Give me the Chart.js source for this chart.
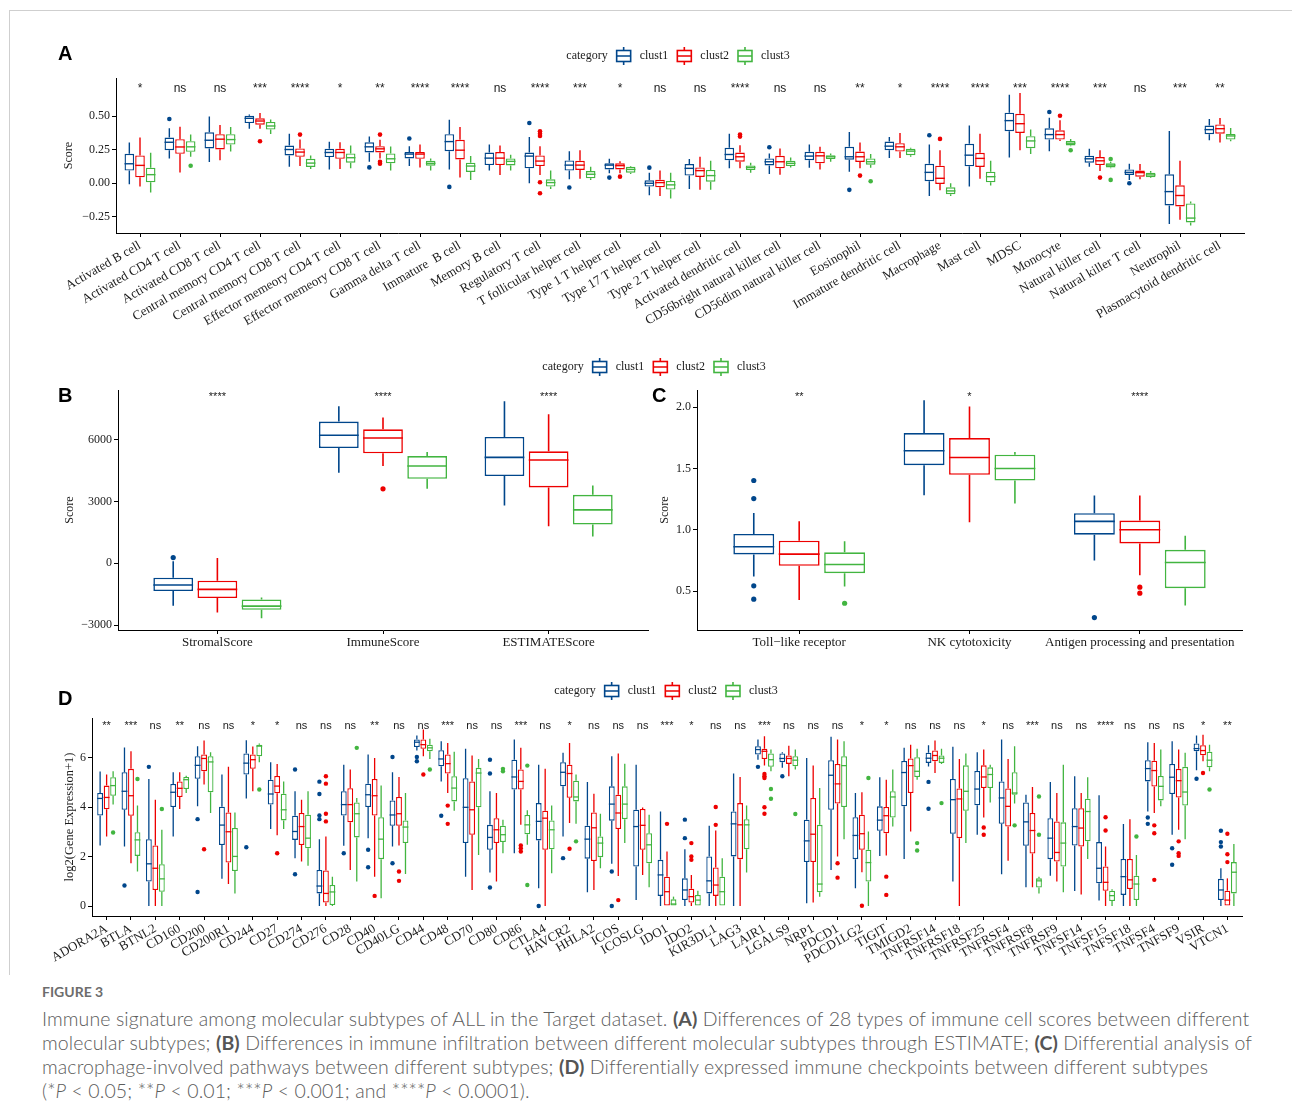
<!DOCTYPE html>
<html><head><meta charset="utf-8">
<script src="https://cdn.jsdelivr.net/npm/chart.js@4.4.1/dist/chart.umd.min.js"></script>
<style>
html,body{margin:0;padding:0;background:#fff;}
body{width:1292px;height:1120px;position:relative;overflow:hidden;}
canvas{position:absolute;left:0;top:0;}
#frameT{position:absolute;left:9px;top:10px;width:1283px;height:1px;background:#cfcfcf;}
#frameL{position:absolute;left:9px;top:10px;width:1px;height:965px;background:#cfcfcf;}
#figlab{position:absolute;left:42px;top:983px;font-family:Lato,"Open Sans",sans-serif;font-size:14px;font-weight:700;color:#6d6d6d;}
#cap{position:absolute;left:42px;top:1007px;font-family:Lato,"Open Sans",sans-serif;font-size:19.5px;font-weight:300;letter-spacing:0.1px;line-height:24px;color:#5c5c5c;white-space:nowrap;}
#cap b{font-weight:700;color:#555;}
</style></head>
<body>
<div id="frameT"></div><div id="frameL"></div>
<canvas id="cA" width="1292" height="975"></canvas>
<canvas id="cB" width="1292" height="975"></canvas>
<canvas id="cC" width="1292" height="975"></canvas>
<canvas id="cD" width="1292" height="975"></canvas>
<div id="figlab">FIGURE 3</div>
<div id="cap">Immune signature among molecular subtypes of ALL in the Target dataset. <b>(A)</b> Differences of 28 types of immune cell scores between different<br>molecular subtypes; <b>(B)</b> Differences in immune infiltration between different molecular subtypes through ESTIMATE; <b>(C)</b> Differential analysis of<br>macrophage-involved pathways between different subtypes; <b>(D)</b> Differentially expressed immune checkpoints between different subtypes<br>(*<i>P</i> &lt; 0.05; **<i>P</i> &lt; 0.01; ***<i>P</i> &lt; 0.001; and ****<i>P</i> &lt; 0.0001).</div>
<script>
// ---------------- DATA ----------------
const SERIES = ['clust1', 'clust2', 'clust3'];

// Panel A: stats per box = [lower whisker, Q1, median, Q3, upper whisker]
const A_cats = ['Activated B cell','Activated CD4 T cell','Activated CD8 T cell','Central memory CD4 T cell','Central memory CD8 T cell','Effector memeory CD4 T cell','Effector memeory CD8 T cell','Gamma delta T cell','Immature  B cell','Memory B cell','Regulatory T cell','T follicular helper cell','Type 1 T helper cell','Type 17 T helper cell','Type 2 T helper cell','Activated dendritic cell','CD56bright natural killer cell','CD56dim natural killer cell','Eosinophil','Immature dendritic cell','Macrophage','Mast cell','MDSC','Monocyte','Natural killer cell','Natural killer T cell','Neutrophil','Plasmacytoid dendritic cell'];
const A_sig = ['*','ns','ns','***','****','*','**','****','****','ns','****','***','*','ns','ns','****','ns','ns','**','*','****','****','***','****','***','ns','***','**'];
const A_yTicks = [-0.25, 0, 0.25, 0.5];
const A_c1 = [[-0.007,0.094,0.145,0.219,0.303],[0.185,0.246,0.305,0.34,0.41],[0.158,0.259,0.32,0.379,0.497],[0.406,0.448,0.483,0.502,0.512],[0.123,0.207,0.251,0.281,0.369],[0.103,0.195,0.229,0.256,0.308],[0.16,0.229,0.271,0.305,0.347],[0.128,0.185,0.217,0.232,0.276],[0.103,0.239,0.31,0.365,0.473],[0.094,0.135,0.187,0.229,0.288],[0.0,0.111,0.202,0.229,0.345],[0.03,0.094,0.135,0.17,0.239],[0.074,0.103,0.135,0.148,0.182],[-0.089,-0.025,0.0,0.022,0.079],[-0.042,0.057,0.111,0.143,0.18],[0.111,0.172,0.214,0.264,0.369],[0.069,0.133,0.16,0.185,0.222],[0.116,0.172,0.202,0.234,0.288],[0.086,0.175,0.197,0.271,0.382],[0.187,0.246,0.276,0.31,0.345],[-0.094,0.015,0.081,0.145,0.288],[-0.025,0.126,0.209,0.293,0.429],[0.192,0.387,0.466,0.525,0.658],[0.239,0.325,0.362,0.409,0.488],[0.123,0.153,0.182,0.204,0.256],[0.025,0.062,0.081,0.103,0.145],[-0.303,-0.165,-0.062,0.067,0.389],[0.32,0.365,0.399,0.429,0.478]];
const A_c2 = [[-0.025,0.044,0.133,0.207,0.34],[0.08,0.219,0.27,0.328,0.42],[0.172,0.251,0.328,0.365,0.433],[0.406,0.436,0.463,0.483,0.522],[0.128,0.197,0.232,0.259,0.325],[0.106,0.182,0.229,0.256,0.305],[0.185,0.229,0.256,0.276,0.323],[0.118,0.182,0.217,0.232,0.288],[0.042,0.177,0.246,0.323,0.419],[0.062,0.135,0.187,0.232,0.281],[0.062,0.128,0.165,0.207,0.276],[0.034,0.099,0.135,0.167,0.246],[0.074,0.103,0.131,0.148,0.163],[-0.094,-0.03,0.005,0.027,0.094],[-0.049,0.047,0.094,0.118,0.197],[0.111,0.16,0.197,0.229,0.283],[0.064,0.111,0.16,0.204,0.259],[0.103,0.148,0.204,0.234,0.271],[0.111,0.158,0.197,0.236,0.303],[0.187,0.236,0.271,0.298,0.374],[-0.052,-0.005,0.037,0.131,0.246],[0.034,0.121,0.185,0.227,0.369],[0.246,0.374,0.443,0.517,0.672],[0.315,0.325,0.362,0.394,0.468],[0.091,0.135,0.167,0.195,0.246],[0.03,0.049,0.079,0.094,0.143],[-0.271,-0.172,-0.091,-0.015,0.167],[0.303,0.369,0.406,0.438,0.485]];
const A_c3 = [[-0.069,0.007,0.064,0.116,0.227],[0.197,0.234,0.271,0.313,0.362],[0.236,0.288,0.325,0.365,0.419],[0.367,0.399,0.426,0.456,0.475],[0.106,0.121,0.15,0.182,0.207],[0.111,0.153,0.19,0.222,0.281],[0.094,0.148,0.182,0.222,0.273],[0.094,0.131,0.148,0.167,0.185],[0.025,0.084,0.128,0.153,0.202],[0.094,0.133,0.163,0.185,0.212],[-0.042,-0.025,0.005,0.03,0.094],[0.025,0.037,0.067,0.091,0.123],[0.069,0.079,0.103,0.123,0.128],[-0.113,-0.047,-0.012,0.017,0.079],[-0.049,0.012,0.057,0.099,0.167],[0.079,0.099,0.118,0.133,0.153],[0.118,0.128,0.148,0.167,0.192],[0.16,0.18,0.197,0.209,0.222],[0.115,0.138,0.16,0.185,0.217],[0.197,0.209,0.239,0.256,0.264],[-0.094,-0.081,-0.057,-0.03,0.0],[-0.017,0.007,0.049,0.086,0.167],[0.217,0.261,0.315,0.35,0.399],[0.275,0.281,0.298,0.315,0.33],[0.111,0.118,0.135,0.148,0.16],[0.04,0.044,0.062,0.079,0.091],[-0.315,-0.291,-0.259,-0.15,-0.135],[0.313,0.325,0.352,0.367,0.411]];
// outliers: [category index, value]
const A_o1 = [[1,0.478],[6,0.118],[7,0.333],[8,-0.027],[10,0.448],[11,-0.032],[12,0.042],[13,0.116],[16,0.268],[18,-0.049],[20,0.357],[23,0.53],[25,0.0]];
const A_o2 = [[3,0.313],[4,0.362],[6,0.362],[6,0.16],[6,0.145],[10,0.387],[10,0.369],[10,0.352],[10,0.007],[10,-0.074],[12,0.049],[15,0.362],[15,0.347],[18,0.057],[20,0.33],[23,0.502],[24,0.042]];
const A_o3 = [[1,0.13],[18,0.015],[23,0.246],[24,0.18],[24,0.025]];

// Panel B (ESTIMATE)
const B_cats = ['StromalScore', 'ImmuneScore', 'ESTIMATEScore'];
const B_sig = ['****', '****', '****'];
const B_yTicks = [-3000, 0, 3000, 6000];
const B_c1 = [[-2065,-1350,-1057,-699,100],[4406,5610,6228,6894,7642],[2813,4244,5154,6146,7886]];
const B_c2 = [[-2390,-1691,-1268,-846,260],[4732,5350,6098,6520,7089],[1805,3691,5024,5447,7252]];
const B_c3 = [[-2667,-2260,-2081,-1756,-1659],[3626,4114,4732,5220,5415],[1301,1886,2602,3333,3789]];
const B_o1 = [[0,280]];
const B_o2 = [[1,3626]];
const B_o3 = [];

// Panel C (macrophage pathways)
const C_cats = ['Toll\u2212like receptor', 'NK cytotoxicity', 'Antigen processing and presentation'];
const C_sig = ['**', '*', '****'];
const C_yTicks = [0.5, 1.0, 1.5, 2.0];
const C_c1 = [[0.618,0.798,0.861,0.965,1.136],[1.281,1.526,1.644,1.788,2.055],[0.749,0.959,1.068,1.134,1.278]];
const C_c2 = [[0.427,0.705,0.801,0.91,1.068],[1.06,1.447,1.589,1.747,2.004],[0.629,0.888,1.0,1.074,1.278]];
const C_c3 = [[0.536,0.645,0.716,0.815,0.905],[1.213,1.401,1.499,1.611,1.633],[0.381,0.523,0.733,0.836,0.951]];
const C_o1 = [[0,1.401],[0,1.254],[0,0.542],[0,0.433],[2,0.283]];
const C_o2 = [[2,0.531],[2,0.482]];
const C_o3 = [[0,0.4]];

// Panel D (immune checkpoints)
const D_cats = ['ADORA2A','BTLA','BTNL2','CD160','CD200','CD200R1','CD244','CD27','CD274','CD276','CD28','CD40','CD40LG','CD44','CD48','CD70','CD80','CD86','CTLA4','HAVCR2','HHLA2','ICOS','ICOSLG','IDO1','IDO2','KIR3DL1','LAG3','LAIR1','LGALS9','NRP1','PDCD1','PDCD1LG2','TIGIT','TMIGD2','TNFRSF14','TNFRSF18','TNFRSF25','TNFRSF4','TNFRSF8','TNFRSF9','TNFSF14','TNFSF15','TNFSF18','TNFSF4','TNFSF9','VSIR','VTCN1'];
const D_sig = ['**','***','ns','**','ns','ns','*','*','ns','ns','ns','**','ns','ns','***','ns','ns','***','ns','*','ns','ns','ns','***','*','ns','ns','***','ns','ns','ns','*','*','ns','ns','ns','*','ns','***','ns','ns','****','ns','ns','ns','*','**'];
const D_yTicks = [0, 2, 4, 6];
const D_c1 = [[2.45,3.67,4.36,4.58,5.45],[2.41,3.90,4.65,5.42,6.42],[0,0.99,1.71,2.71,5.15],[2.82,4.01,4.61,4.95,5.42],[4.04,5.16,5.70,6.07,6.48],[1.10,2.47,3.28,4.02,5.33],[4.36,5.33,5.79,6.18,6.72],[3.12,4.11,4.54,5.12,5.83],[1.94,2.68,3.02,3.66,4.65],[0,0.51,0.81,1.46,2.71],[2.44,3.67,4.11,4.65,5.73],[2.75,4.01,4.51,4.96,6.14],[2.41,3.25,3.69,4.28,5.42],[6.30,6.44,6.64,6.75,6.91],[5.05,5.66,5.96,6.31,6.68],[1.19,2.55,4.00,5.18,6.37],[1.36,2.28,2.78,3.29,4.65],[2.14,4.72,5.23,5.93,6.75],[0.72,2.66,3.43,4.17,5.73],[2.82,4.85,5.42,5.83,6.21],[0.56,1.92,2.71,3.25,5.03],[1.71,3.46,4.13,4.85,6.07],[0.24,1.60,3.22,3.90,5.73],[0,0.41,1.26,1.87,3.83],[0,0.24,0.65,1.12,2.30],[0,0.51,1.02,2.01,3.25],[0,2.01,3.33,3.83,5.37],[5.93,6.14,6.34,6.48,6.75],[5.60,5.83,5.98,6.18,6.23],[0.11,1.78,2.64,3.50,6.00],[1.46,3.90,5.30,5.91,6.86],[0.72,1.90,2.86,3.60,4.58],[2.03,3.05,3.48,4.04,5.22],[1.91,4.04,5.41,5.88,6.41],[5.65,5.80,5.99,6.21,6.52],[0.99,2.93,4.31,5.15,6.45],[2.89,4.08,4.74,5.47,6.23],[1.29,3.33,4.38,5.05,6.75],[0.76,2.44,3.41,4.20,4.51],[1.23,1.90,2.75,3.56,5.03],[0.61,2.45,3.22,3.96,5.26],[0.22,0.92,1.53,2.59,4.49],[0,0.45,1.19,1.91,3.32],[3.83,5.05,5.57,5.91,6.64],[2.89,4.54,5.22,5.76,6.68],[5.50,6.27,6.38,6.59,6.91],[0,0.24,0.65,1.10,1.53]];
const D_c2 = [[2.82,3.92,4.40,4.88,5.33],[1.73,3.66,4.47,5.56,6.27],[0,0.65,1.53,2.45,4.31],[3.93,4.42,4.77,5.05,5.42],[4.92,5.46,5.98,6.14,6.71],[0.89,1.76,3.01,3.79,5.64],[4.65,5.56,5.93,6.14,6.46],[2.87,4.57,4.86,5.27,5.76],[1.80,2.47,3.22,3.77,4.31],[0,0.14,0.51,1.44,2.82],[1.46,3.39,4.11,4.77,5.53],[1.19,3.67,4.47,5.15,6.00],[2.45,3.25,3.74,4.42,5.23],[6.07,6.37,6.54,6.75,7.15],[4.58,5.37,5.77,6.14,6.61],[0.65,2.89,3.90,5.05,6.10],[0.99,2.55,3.09,3.56,4.58],[3.29,4.72,5.05,5.53,6.41],[0,2.28,3.56,3.86,5.56],[3.36,4.39,5.37,5.73,6.61],[0.65,1.82,3.17,3.79,4.55],[1.22,3.12,3.77,4.51,6.18],[1.26,2.28,3.27,3.93,3.99],[0,0,0.58,1.19,2.21],[0,0.14,0.38,0.70,1.26],[0,0.41,0.85,1.56,3.06],[0,1.90,3.29,4.17,5.23],[5.69,5.96,6.27,6.37,6.88],[5.26,5.76,5.98,6.10,6.50],[0.14,1.78,2.91,4.38,5.69],[2.01,4.15,4.95,5.76,6.75],[1.37,2.28,2.93,3.70,4.61],[2.05,2.95,3.66,4.01,5.12],[3.02,4.58,5.69,5.98,6.54],[5.39,5.87,6.10,6.30,6.71],[0,2.75,4.34,4.76,5.96],[3.59,4.78,5.23,5.70,6.34],[1.83,3.22,4.04,4.76,5.96],[0.76,2.13,3.06,3.77,4.82],[0.99,1.80,2.17,3.43,4.58],[0.47,2.41,3.16,3.96,4.58],[0,0.62,0.96,1.60,2.41],[0,0.69,1.06,1.91,3.52],[3.77,4.84,5.49,5.89,6.61],[3.09,4.40,5.08,5.56,6.34],[5.87,6.11,6.30,6.52,6.94],[0,0,0.24,0.62,1.12]];
const D_c3 = [[4.11,4.47,4.88,5.22,5.46],[1.40,2.03,2.68,2.99,4.07],[0,0.58,1.10,1.69,3.09],[4.58,4.74,5.12,5.23,5.28],[3.77,4.61,5.84,6.07,6.23],[0.51,1.42,2.01,3.16,3.79],[5.83,6.07,6.48,6.54,6.59],[3.12,3.47,3.90,4.55,5.05],[1.63,2.34,2.75,3.70,4.65],[0,0.04,0.57,0.85,1.19],[0.99,2.78,3.74,4.20,4.38],[0.31,1.90,2.71,3.60,4.88],[1.30,2.55,3.20,3.47,4.58],[5.96,6.27,6.41,6.54,6.78],[3.86,4.24,4.78,5.26,6.25],[2.07,4.00,5.39,5.60,5.96],[2.14,2.59,2.89,3.25,3.50],[2.48,2.91,3.29,3.69,3.88],[1.33,2.30,3.09,3.47,4.07],[3.33,4.24,4.42,5.08,5.33],[1.53,1.98,2.55,2.82,3.74],[2.55,3.52,4.13,4.85,5.77],[0.76,1.73,2.48,2.95,3.70],[0,0,0.08,0.27,0.38],[0,0,0.24,0.45,0.62],[0,0,0.58,1.19,1.94],[1.36,2.30,3.29,3.52,4.07],[5.46,5.64,5.93,6.18,6.34],[5.53,5.66,5.91,6.07,6.34],[0.38,0.56,0.89,3.29,4.78],[2.71,4.01,5.69,6.07,6.68],[0,0.99,1.76,2.28,3.02],[3.22,3.59,4.42,4.65,5.53],[5.12,5.23,5.46,6.03,6.37],[5.76,5.80,5.99,6.10,6.37],[2.55,3.86,4.65,5.70,6.18],[4.20,4.78,5.33,5.62,5.73],[4.15,4.51,4.58,5.42,6.48],[0.51,0.75,1.02,1.12,1.19],[0.56,1.60,2.55,3.39,5.73],[1.91,2.62,3.83,4.35,5.22],[0,0.20,0.42,0.62,0.68],[0,0.24,0.89,1.23,2.07],[4.04,4.28,4.85,5.27,6.34],[2.71,4.07,4.62,5.64,6.21],[5.46,5.62,5.91,6.25,6.54],[0,0.51,1.37,1.78,2.51]];
const D_o1 = [[1,0.83],[2,5.64],[4,3.52],[4,0.57],[6,2.38],[8,5.53],[8,1.29],[9,5.04],[9,4.54],[9,3.67],[9,3.52],[10,2.14],[11,2.28],[11,1.57],[12,6.04],[12,1.73],[13,6.04],[13,5.87],[14,3.66],[16,5.93],[16,5.37],[16,0.75],[18,0],[19,1.94],[21,1.40],[21,0],[24,3.50],[24,2.75],[27,5.64],[28,5.26],[34,5.03],[34,3.94],[43,3.59],[43,3.33],[44,2.34],[44,1.67],[45,5.16],[46,3.05],[46,2.59],[46,2.41]];
const D_o2 = [[4,2.30],[7,2.14],[9,5.26],[9,4.96],[9,3.74],[9,3.43],[11,0.41],[12,1.40],[12,1.02],[13,5.33],[14,4.07],[14,3.33],[17,2.45],[17,2.34],[17,2.21],[19,2.32],[21,0.24],[23,3.33],[24,2.55],[24,2.01],[24,1.87],[25,4.01],[25,3.29],[27,5.35],[27,5.26],[27,5.19],[27,4.00],[27,3.74],[30,1.73],[30,1.15],[31,0.01],[32,1.19],[32,0.45],[36,3.18],[36,2.89],[41,3.60],[41,3.06],[43,3.27],[43,2.95],[43,1.06],[44,2.62],[44,2.14],[44,2.03],[45,5.39],[46,2.93],[46,2.10],[46,1.78]];
const D_o3 = [[0,2.98],[1,5.15],[2,3.93],[6,4.72],[10,6.41],[13,5.53],[16,5.56],[16,5.46],[17,5.69],[17,0.85],[19,2.62],[27,4.74],[27,4.35],[28,3.73],[31,5.19],[33,2.55],[33,2.25],[34,4.17],[37,3.27],[38,4.44],[38,2.89],[42,2.82],[45,4.72]];

// ---------------- STYLE / RENDER ----------------
const COLORS = ['#00468B', '#ED0000', '#42B540'];
const SERIF = '"Liberation Serif", "Times New Roman", serif';
const SANS = '"Liberation Sans", Arial, sans-serif';
const INK = '#1a1a1a';
const CW = 1292, CH = 975;

function drawIcon(ctx, x, cy, w, col) {
  ctx.save();
  ctx.strokeStyle = col; ctx.lineWidth = 1.6;
  ctx.strokeRect(x + 1, cy - 5.5, w - 2, 11);
  ctx.beginPath();
  ctx.moveTo(x + 1, cy); ctx.lineTo(x + w - 1, cy);
  ctx.moveTo(x + w / 2, cy - 5.5); ctx.lineTo(x + w / 2, cy - 9);
  ctx.moveTo(x + w / 2, cy + 5.5); ctx.lineTo(x + w / 2, cy + 9);
  ctx.stroke();
  ctx.restore();
}
function drawLegend(ctx, cx, cy) {
  ctx.save();
  ctx.font = '12px ' + SERIF; ctx.textBaseline = 'middle'; ctx.textAlign = 'left'; ctx.fillStyle = INK;
  const gap = 8, iw = 16, title = 'category';
  let total = ctx.measureText(title).width;
  SERIES.forEach(s => { total += gap + iw + gap + ctx.measureText(s).width; });
  let x = cx - total / 2;
  ctx.fillText(title, x, cy); x += ctx.measureText(title).width;
  SERIES.forEach((s, k) => {
    x += gap; drawIcon(ctx, x, cy, iw, COLORS[k]); x += iw + gap;
    ctx.fillStyle = INK; ctx.fillText(s, x, cy); x += ctx.measureText(s).width;
  });
  ctx.restore();
}

const boxPlugin = {
  id: 'boxExtras',
  afterDatasetsDraw(chart, args, o) {
    const ctx = chart.ctx, ys = chart.scales.y, xs = chart.scales.x;
    chart.data.datasets.forEach((ds, k) => {
      const meta = chart.getDatasetMeta(k);
      ctx.save();
      ctx.strokeStyle = COLORS[k]; ctx.fillStyle = COLORS[k];
      meta.data.forEach((el, i) => {
        const s = ds.stats[i];
        const x = el.x, hw = el.width / 2;
        ctx.lineWidth = o.lw; ctx.lineCap = 'butt';
        ctx.beginPath();
        ctx.moveTo(x, ys.getPixelForValue(s[3])); ctx.lineTo(x, ys.getPixelForValue(s[4]));
        ctx.moveTo(x, ys.getPixelForValue(s[1])); ctx.lineTo(x, ys.getPixelForValue(s[0]));
        ctx.stroke();
        const ym = ys.getPixelForValue(s[2]);
        ctx.lineWidth = o.medLw;
        ctx.beginPath(); ctx.moveTo(x - hw, ym); ctx.lineTo(x + hw, ym); ctx.stroke();
      });
      ds.outs.forEach(([i, v]) => {
        const el = meta.data[i];
        ctx.beginPath(); ctx.arc(el.x, ys.getPixelForValue(v), o.r, 0, Math.PI * 2); ctx.fill();
      });
      ctx.restore();
    });
    // significance labels
    ctx.save();
    ctx.font = o.sigFont; ctx.fillStyle = INK; ctx.textAlign = 'center'; ctx.textBaseline = 'middle';
    o.sig.forEach((t, i) => { ctx.fillText(t, xs.getPixelForValue(i), o.sigY); });
    ctx.restore();
  },
  afterDraw(chart, args, o) {
    const ctx = chart.ctx;
    if (o.legend) drawLegend(ctx, o.legend[0], o.legend[1]);
    ctx.save();
    ctx.font = 'bold 20px ' + SANS; ctx.fillStyle = '#000'; ctx.textAlign = 'left'; ctx.textBaseline = 'alphabetic';
    ctx.fillText(o.letter[0], o.letter[1], o.letter[2]);
    ctx.restore();
  }
};

function boxChart(id, p) {
  const datasets = p.stats.map((st, k) => ({
    label: SERIES[k],
    data: st.map(s => [s[1], s[3]]),
    stats: st,
    outs: p.outs[k],
    backgroundColor: '#ffffff',
    borderColor: COLORS[k],
    borderWidth: p.lw,
    borderSkipped: false,
    categoryPercentage: 0.8,
    barPercentage: 0.9
  }));
  const axisGrid = { display: true, drawOnChartArea: false, drawTicks: true, tickLength: 4, color: '#000', lineWidth: 1, offset: false };
  return new Chart(document.getElementById(id), {
    type: 'bar',
    data: { labels: p.cats, datasets },
    plugins: [boxPlugin],
    options: {
      responsive: false, animation: false, events: [],
      layout: { padding: { left: p.area.l - p.yW, top: p.area.t, right: CW - p.area.r, bottom: CH - p.area.b - p.xH } },
      plugins: {
        legend: { display: false }, tooltip: { enabled: false },
        boxExtras: { lw: p.lw, medLw: p.medLw, r: p.r, sig: p.sig, sigY: p.sigY, sigFont: p.sigFont, legend: p.legend, letter: p.letter }
      },
      scales: {
        x: {
          type: 'category', offset: true,
          grid: axisGrid,
          border: { display: true, color: '#000', width: 1 },
          ticks: { autoSkip: false, maxRotation: p.rot, minRotation: p.rot, color: INK, padding: 1, font: { family: SERIF, size: p.xFs } },
          afterBuildTicks: s => { s._startValue -= 0.1; s._valueRange += 0.2; },
          afterFit: s => { s.height = p.xH; }
        },
        y: {
          type: 'linear', min: p.yMin, max: p.yMax,
          grid: axisGrid,
          border: { display: true, color: '#000', width: 1 },
          ticks: { color: INK, padding: 2, font: { family: SERIF, size: p.yFs }, callback: v => p.yFmt(v) },
          afterBuildTicks: s => { s.ticks = p.yTicks.map(v => ({ value: v })); },
          afterFit: s => { s.width = p.yW; },
          title: { display: true, text: p.yTitle, color: INK, padding: 0, font: { family: SERIF, size: p.tFs } }
        }
      }
    }
  });
}
const minus = s => s.replace('-', '\u2212');

boxChart('cA', {
  cats: A_cats, stats: [A_c1, A_c2, A_c3], outs: [A_o1, A_o2, A_o3], sig: A_sig,
  area: { l: 116, t: 78, r: 1244, b: 233 }, yW: 54, xH: 100,
  yMin: -0.37, yMax: 0.783, yTicks: A_yTicks, yFmt: v => minus(v.toFixed(2)), yTitle: 'Score',
  rot: 30, xFs: 13, yFs: 12, tFs: 12, lw: 1.4, medLw: 1.4, r: 2.3,
  sigY: 89, sigFont: '12px ' + SANS, legend: [678, 56], letter: ['A', 58, 60]
});
boxChart('cB', {
  cats: B_cats, stats: [B_c1, B_c2, B_c3], outs: [B_o1, B_o2, B_o3], sig: B_sig,
  area: { l: 118, t: 390, r: 648, b: 630 }, yW: 55, xH: 22,
  yMin: -3243, yMax: 8432, yTicks: B_yTicks, yFmt: v => minus(String(v)), yTitle: 'Score',
  rot: 0, xFs: 13, yFs: 12, tFs: 12, lw: 1.6, medLw: 1.6, r: 2.6,
  sigY: 397, sigFont: '11px ' + SANS, legend: [654, 367], letter: ['B', 58, 402]
});
boxChart('cC', {
  cats: C_cats, stats: [C_c1, C_c2, C_c3], outs: [C_o1, C_o2, C_o3], sig: C_sig,
  area: { l: 697, t: 390, r: 1242, b: 630 }, yW: 39, xH: 22,
  yMin: 0.182, yMax: 2.139, yTicks: C_yTicks, yFmt: v => v.toFixed(1), yTitle: 'Score',
  rot: 0, xFs: 13, yFs: 12, tFs: 12, lw: 1.6, medLw: 1.6, r: 2.6,
  sigY: 397, sigFont: '11px ' + SANS, legend: null, letter: ['C', 652, 402]
});
boxChart('cD', {
  cats: D_cats, stats: [D_c1, D_c2, D_c3], outs: [D_o1, D_o2, D_o3], sig: D_sig,
  area: { l: 92, t: 718, r: 1242, b: 916 }, yW: 30, xH: 55,
  yMin: -0.405, yMax: 7.62, yTicks: D_yTicks, yFmt: v => String(v), yTitle: 'log2(Gene Expression+1)',
  rot: 30, xFs: 13, yFs: 12, tFs: 12.5, lw: 1.3, medLw: 1.3, r: 2.2,
  sigY: 726, sigFont: '11px ' + SANS, legend: [666, 691], letter: ['D', 58, 705]
});
</script>
</body></html>
